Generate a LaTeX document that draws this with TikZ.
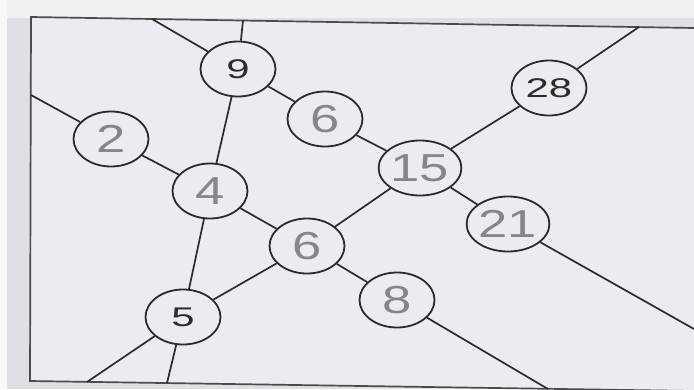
\documentclass[tikz,border=0pt]{standalone}
\usepackage{fontspec}
\setmainfont{Liberation Sans}
\usetikzlibrary{shapes.geometric}
\definecolor{paper}{HTML}{EBEBF1}
\definecolor{outer}{HTML}{DFDFE6}
\definecolor{topstrip}{HTML}{F1F1F5}
\definecolor{ink}{HTML}{2B2B2B}
\definecolor{pencil}{HTML}{85858C}
\newcommand\wdtxt[1]{\scalebox{1.35}[1]{#1}}
\newcommand\wdprt[1]{\scalebox{1.55}[1]{#1}}
\begin{document}
\begin{tikzpicture}[x=1pt,y=-1pt,
  circ/.style={ellipse, draw=ink, line width=1.8pt, fill=paper, minimum width=75pt, minimum height=55pt, inner sep=0pt},
  pen/.style={circ, text=pencil, font=\fontsize{39}{39}\selectfont},
  prt/.style={circ, text=ink, font=\fontsize{27}{27}\selectfont},
  edge/.style={draw=ink, line width=1.7pt}]
\useasboundingbox (0,0) rectangle (694,389);
\fill[outer] (0,0) rectangle (694,389);
\fill[topstrip] (7,0) rectangle (694,18);
\fill[topstrip!50!white] (0,0) rectangle (7,389);
\fill[paper] (31,17) -- (694,28) -- (694,391) -- (30,381) -- cycle;
% frame corners
\coordinate (TL) at (31,17);
\coordinate (TR) at (694,28);
\coordinate (BL) at (30,381);
\coordinate (BR) at (694,391);
\draw[edge, draw=ink!85] (TR) -- (TL) -- (BL) -- (BR);
% free ends on the frame
\coordinate (a1) at (152,19);
\coordinate (a2) at (694,329);
\coordinate (b1) at (31,95);
\coordinate (b2) at (548,389);
\coordinate (c1) at (243,20.5);
\coordinate (c2) at (167,383);
\coordinate (d1) at (639,27);
\coordinate (d2) at (87,382);
% nodes
\node[prt] (n9)  at (238,69)  {\wdprt{9}};
\node[pen] (n6a) at (325,119) {\wdtxt{6}};
\node[pen] (n2)  at (111,139) {\wdtxt{2}};
\node[pen] (n4)  at (210,191) {\wdtxt{4}};
\node[pen] (n6b) at (307,246) {\wdtxt{6}};
\node[prt] (n5)  at (183,317) {\wdprt{5}};
\node[pen] (n15) at (420,168) {\wdtxt{15}};
\node[prt] (n28) at (549,88)  {\wdprt{28}};
\node[pen] (n21) at (508,224) {\wdtxt{21}};
\node[pen] (n8)  at (397,300) {\wdtxt{8}};
% line 1
\draw[edge] (a1) -- (n9);
\draw[edge] (n9) -- (n6a);
\draw[edge] (n6a) -- (n15);
\draw[edge] (n15) -- (n21);
\draw[edge] (n21) -- (a2);
% line 2
\draw[edge] (b1) -- (n2);
\draw[edge] (n2) -- (n4);
\draw[edge] (n4) -- (n6b);
\draw[edge] (n6b) -- (n8);
\draw[edge] (n8) -- (b2);
% line 3
\draw[edge] (c1) -- (n9);
\draw[edge] (n9) -- (n4);
\draw[edge] (n4) -- (n5);
\draw[edge] (n5) -- (c2);
% line 4
\draw[edge] (d1) -- (n28);
\draw[edge] (n28) -- (n15);
\draw[edge] (n15) -- (n6b);
\draw[edge] (n6b) -- (n5);
\draw[edge] (n5) -- (d2);
\end{tikzpicture}
\end{document}
